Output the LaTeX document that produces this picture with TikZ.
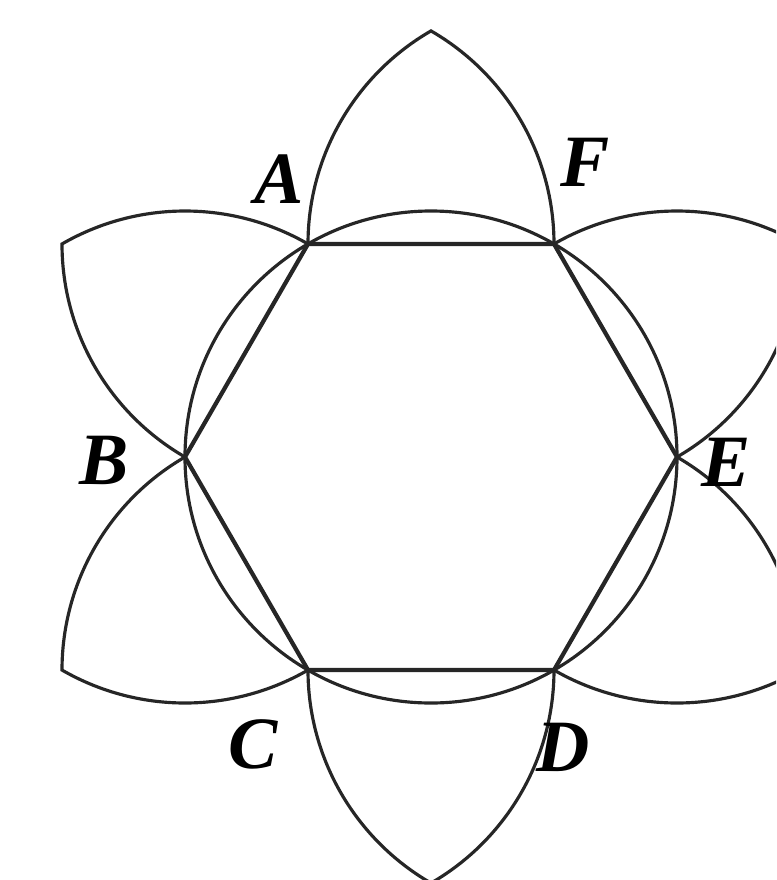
\documentclass[tikz,border=0pt]{standalone}
\usepackage{fontspec}
\setmainfont{Liberation Serif}

\begin{document}
\begin{tikzpicture}[
		line width=0.9pt,
		draw=black!85,
		petal/.style={draw=black!85, line width=0.9pt},
		side/.style={draw=black!85, line width=1.2pt},
		vlabel/.style={font=\fontsize{21}{25}\selectfont\bfseries\itshape, inner sep=0pt}
		]
		
		% frame of the picture
		\useasboundingbox (0,0) rectangle (7.76,-8.80);
		\clip (0,0) rectangle (7.76,-8.80);
		
		\begin{scope}[shift={(4.31,-4.57)}]
			% ==========================================
			% Vertices of the hexagon
			% ==========================================
			\coordinate (E) at (0:2.46);
			\coordinate (F) at (60:2.46);
			\coordinate (A) at (120:2.46);
			\coordinate (B) at (180:2.46);
			\coordinate (C) at (240:2.46);
			\coordinate (D) at (300:2.46);
			
			% Circumscribed circle
			\draw[petal] (0,0) circle[radius=2.46];
			
			% Hexagon
			\draw[side] (A) -- (F) -- (E) -- (D) -- (C) -- (B) -- cycle;
			
			% ==========================================
			% Petals on the six sides
			% ==========================================
			\draw[petal] (A) arc[start angle=180, end angle=120, radius=2.46]
				arc[start angle=60, end angle=0, radius=2.46];
			\draw[petal] (F) arc[start angle=120, end angle=60, radius=2.46]
				arc[start angle=0, end angle=-60, radius=2.46];
			\draw[petal] (E) arc[start angle=60, end angle=0, radius=2.46]
				arc[start angle=-60, end angle=-120, radius=2.46];
			\draw[petal] (D) arc[start angle=0, end angle=-60, radius=2.46]
				arc[start angle=-120, end angle=-180, radius=2.46];
			\draw[petal] (C) arc[start angle=-60, end angle=-120, radius=2.46]
				arc[start angle=-180, end angle=-240, radius=2.46];
			\draw[petal] (B) arc[start angle=240, end angle=180, radius=2.46]
				arc[start angle=120, end angle=60, radius=2.46];
		\end{scope}
		
		% Labels
		\node (labA) [vlabel] at (2.79,-1.79) {A};
		\node (labF) [vlabel] at (5.85,-1.62) {F};
		\node (labB) [vlabel] at (1.04,-4.60) {B};
		\node (labE) [vlabel] at (7.26,-4.62) {E};
		\node (labC) [vlabel] at (2.53,-7.44) {C};
		\node (labD) [vlabel] at (5.63,-7.47) {D};
		
	\end{tikzpicture}
\end{document}
